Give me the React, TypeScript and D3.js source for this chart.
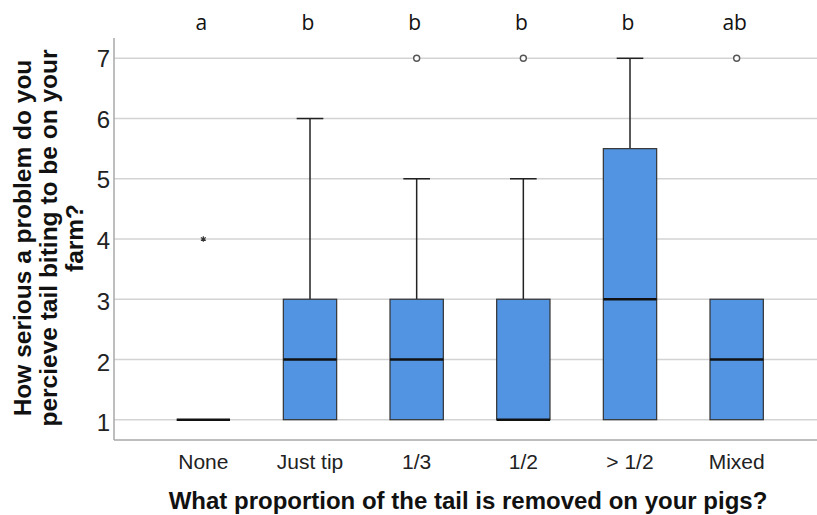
import React from 'react';
import * as d3 from 'd3';

const categories = ['None', 'Just tip', '1/3', '1/2', '> 1/2', 'Mixed'];
const mins = [1, 1, 1, 1, 1, 1];
const q1s = [1, 1, 1, 1, 1, 1];
const medians = [1, 2, 2, 1, 3, 2];
const q3s = [1, 3, 3, 3, 5.5, 3];
const maxs = [1, 6, 5, 5, 7, 3];
// outliers (circles) and extremes (stars)
const outliers: [string, number][] = [['1/3', 7], ['1/2', 7], ['Mixed', 7]];
const extremes: [string, number][] = [['None', 4]];
const groupLetters = ['a', 'b', 'b', 'b', 'b', 'ab'];
const yTicks = [1, 2, 3, 4, 5, 6, 7];

const W = 817;
const H = 515;
const BLUE = '#5294e2';

export default function App() {
  const x = d3.scaleBand<string>()
    .domain(categories)
    .range([150, 790])
    .paddingInner(0.5)
    .paddingOuter(0.25);
  const y = d3.scaleLinear().domain([1, 7]).range([419.7, 58.3]);

  const axisLeft = 114;
  const axisBottom = 440;
  const bw = x.bandwidth();
  const cx = (c: string) => (x(c) ?? 0) + bw / 2;
  const star = d3.symbol(d3.symbolAsterisk, 22)();

  return (
    <svg width={W} height={H} style={{ position: 'absolute', left: 0, top: 0, background: '#fff' }}>
      {/* gridlines */}
      {yTicks.map(t => (
        <line key={t} x1={axisLeft} x2={W} y1={y(t)} y2={y(t)} stroke="#d3d3d3" strokeWidth={1.5} />
      ))}
      {/* axes */}
      <line x1={axisLeft} x2={axisLeft} y1={38} y2={axisBottom} stroke="#a8a8a8" strokeWidth={1.5} />
      <line x1={axisLeft} x2={W} y1={axisBottom} y2={axisBottom} stroke="#a8a8a8" strokeWidth={1.5} />

      {/* y tick labels */}
      {yTicks.map(t => (
        <text key={t} x={110} y={y(t)} dy="0.36em" textAnchor="end"
          fontFamily="Liberation Sans, Arial, sans-serif" fontSize={24} fill="#222"
          transform={`translate(0,${3 * (7 - t) / 6})`}>{t}</text>
      ))}

      {/* boxes */}
      {categories.map((c, i) => {
        const xc = cx(c);
        const x0 = x(c) ?? 0;
        return (
          <g key={c}>
            {maxs[i] > q3s[i] && (
              <g stroke="#222" strokeWidth={1.5}>
                <line x1={xc} x2={xc} y1={y(q3s[i])} y2={y(maxs[i])} />
                <line x1={xc - bw / 4} x2={xc + bw / 4} y1={y(maxs[i])} y2={y(maxs[i])} />
              </g>
            )}
            {mins[i] < q1s[i] && (
              <g stroke="#222" strokeWidth={1.5}>
                <line x1={xc} x2={xc} y1={y(q1s[i])} y2={y(mins[i])} />
                <line x1={xc - bw / 4} x2={xc + bw / 4} y1={y(mins[i])} y2={y(mins[i])} />
              </g>
            )}
            {q3s[i] > q1s[i] && (
              <rect x={x0} width={bw} y={y(q3s[i])} height={y(q1s[i]) - y(q3s[i])}
                fill={BLUE} stroke="#333" strokeWidth={1.2} />
            )}
            <line x1={x0} x2={x0 + bw} y1={y(medians[i])} y2={y(medians[i])} stroke="#111" strokeWidth={2.5} />
          </g>
        );
      })}

      {/* outliers */}
      {outliers.map(([c, v], i) => (
        <circle key={i} cx={cx(c)} cy={y(v)} r={3} fill="#fff" stroke="#555" strokeWidth={1.4} />
      ))}
      {extremes.map(([c, v], i) => (
        <path key={i} d={star ?? ''} transform={`translate(${cx(c)},${y(v)})`} stroke="#333" strokeWidth={1.2} fill="none" />
      ))}

      {/* group letters */}
      {categories.map((c, i) => (
        <text key={c} x={cx(c) - 2} y={30} textAnchor="middle" fontFamily="Open Sans, sans-serif"
          fontSize={21} fill="#111">{groupLetters[i]}</text>
      ))}

      {/* x tick labels */}
      {categories.map(c => (
        <text key={c} x={cx(c)} y={469} textAnchor="middle" fontFamily="Liberation Sans, Arial, sans-serif"
          fontSize={21} fill="#222">{c}</text>
      ))}

      {/* axis titles */}
      <text x={468} y={509} textAnchor="middle" fontFamily="Liberation Sans, Arial, sans-serif"
        fontWeight="bold" fontSize={24} fill="#111">What proportion of the tail is removed on your pigs?</text>
      <text transform="translate(49,238) rotate(-90)" textAnchor="middle"
        fontFamily="Liberation Sans, Arial, sans-serif" fontWeight="bold" fontSize={24.5} fill="#111">
        <tspan x={0} y={-18}>How serious a problem do you</tspan>
        <tspan x={0} y={8}>percieve tail biting to be on your</tspan>
        <tspan x={0} y={34}>farm?</tspan>
      </text>
    </svg>
  );
}
